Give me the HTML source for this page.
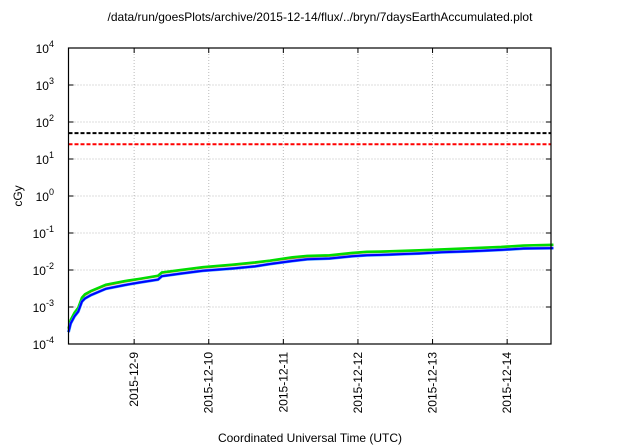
<!DOCTYPE html>
<html><head><meta charset="utf-8"><style>
body{margin:0;background:#fff;}
svg{display:block;font-family:"Liberation Sans",sans-serif;}
</style></head><body>
<svg id="c" width="640" height="448"></svg>
<script>
const days = [0,0.03,0.08,0.13,0.18,0.22,0.3,0.5,0.75,0.95,1.2,1.25,1.5,1.8,2.2,2.5,2.7,3.0,3.2,3.5,3.8,4.0,4.3,4.5,4.7,5.0,5.4,5.8,6.1,6.5];
const greenSeries = [2.6e-4,4.5e-4,7e-4,9.5e-4,1.8e-3,2.2e-3,2.7e-3,4.0e-3,5.0e-3,5.8e-3,7.0e-3,8.6e-3,1.0e-2,1.2e-2,1.4e-2,1.6e-2,1.8e-2,2.2e-2,2.4e-2,2.5e-2,2.9e-2,3.1e-2,3.2e-2,3.3e-2,3.4e-2,3.6e-2,3.9e-2,4.2e-2,4.6e-2,4.8e-2];
const redSeries   = [2.5e-4,4.3e-4,6.7e-4,9.2e-4,1.7e-3,2.1e-3,2.6e-3,3.8e-3,4.8e-3,5.6e-3,6.8e-3,8.3e-3,9.7e-3,1.15e-2,1.35e-2,1.55e-2,1.75e-2,2.1e-2,2.3e-2,2.4e-2,2.8e-2,3.0e-2,3.1e-2,3.2e-2,3.3e-2,3.5e-2,3.8e-2,4.1e-2,4.5e-2,4.7e-2];
const blueSeries  = [2.1e-4,3.6e-4,5.6e-4,7.5e-4,1.4e-3,1.7e-3,2.1e-3,3.1e-3,3.9e-3,4.6e-3,5.5e-3,6.8e-3,8.0e-3,9.5e-3,1.1e-2,1.25e-2,1.45e-2,1.75e-2,1.95e-2,2.05e-2,2.35e-2,2.5e-2,2.6e-2,2.7e-2,2.8e-2,3.0e-2,3.2e-2,3.5e-2,3.8e-2,3.9e-2];
const thresholds = [50,25];
const thresholdColors = ["#000","#ff0000"];
const yExps = [-4,-3,-2,-1,0,1,2,3,4];
const xTickDays = [0.88,1.88,2.88,3.88,4.88,5.88];
const xTickLabels = ["2015-12-9","2015-12-10","2015-12-11","2015-12-12","2015-12-13","2015-12-14"];

const L=68.5,R=551,T=48,B=344,dayW=74.6;
const xs=d=>L+d*dayW;
const ys=v=>B-(Math.log10(v)+4)*(B-T)/8;
const svg=document.getElementById('c');
const NS='http://www.w3.org/2000/svg';
function mk(tag,a,parent){const e=document.createElementNS(NS,tag);for(const k in a)e.setAttribute(k,a[k]);(parent||svg).appendChild(e);return e;}

let t=mk('text',{x:320,y:21,'text-anchor':'middle','font-size':12});
t.textContent='/data/run/goesPlots/archive/2015-12-14/flux/../bryn/7daysEarthAccumulated.plot';



yExps.forEach(e=>{
  const y=ys(Math.pow(10,e));
  if(e>-4&&e<4){const g=mk('line',{x1:L,x2:R,y1:y,y2:y,stroke:'#bbb','stroke-dasharray':'1,2','stroke-width':1});
  
  }
  mk('line',{x1:L,x2:L+5,y1:y,y2:y,stroke:'#000'});
  mk('line',{x1:R,x2:R-5,y1:y,y2:y,stroke:'#000'});
  const tx=mk('text',{x:54,y:y+5,'text-anchor':'end','font-size':12});
  tx.innerHTML='10<tspan dy="-6" font-size="9">'+e+'</tspan>';
  
  
});
xTickDays.forEach((d,i)=>{
  const x=xs(d);
  const g=mk('line',{x1:x,x2:x,y1:T,y2:B,stroke:'#bbb','stroke-dasharray':'1,2'});
  
  
  mk('line',{x1:x,x2:x,y1:B,y2:B-5,stroke:'#000'});
  mk('line',{x1:x,x2:x,y1:T,y2:T+5,stroke:'#000'});
  const tx=mk('text',{x:0,y:0,'text-anchor':'end','font-size':12,transform:'translate('+(x+4)+','+(B+8)+') rotate(-90)'});
  tx.textContent=xTickLabels[i];
  
  
});
thresholds.forEach((v,i)=>{
  const l=mk('line',{x1:L,x2:R,y1:ys(v),y2:ys(v),stroke:thresholdColors[i],'stroke-width':2,'stroke-dasharray':'4,2'});
  
  
});
function series(arr,color,w,name){
  const p=arr.map((v,i)=>xs(days[i]).toFixed(1)+','+ys(v).toFixed(1)).join(' ');
  const pl=mk('polyline',{points:p,fill:'none',stroke:color,'stroke-width':w});
  
  
}
series(redSeries,'#e0602a',2,'series-red');
series(greenSeries,'#00dd00',2.5,'series-green');
series(blueSeries,'#3399ff',3,'series-lightblue');
series(blueSeries,'#0000ff',2,'series-blue');

const f=mk('rect',{x:L,y:T,width:R-L,height:B-T,fill:'none',stroke:'#000','stroke-width':1.2});



t=mk('text',{x:0,y:0,'text-anchor':'middle','font-size':12,transform:'translate(22,196) rotate(-90)'});
t.textContent='cGy';


t=mk('text',{x:310,y:442,'text-anchor':'middle','font-size':12});
t.textContent='Coordinated Universal Time (UTC)';


</script>
</body></html>
